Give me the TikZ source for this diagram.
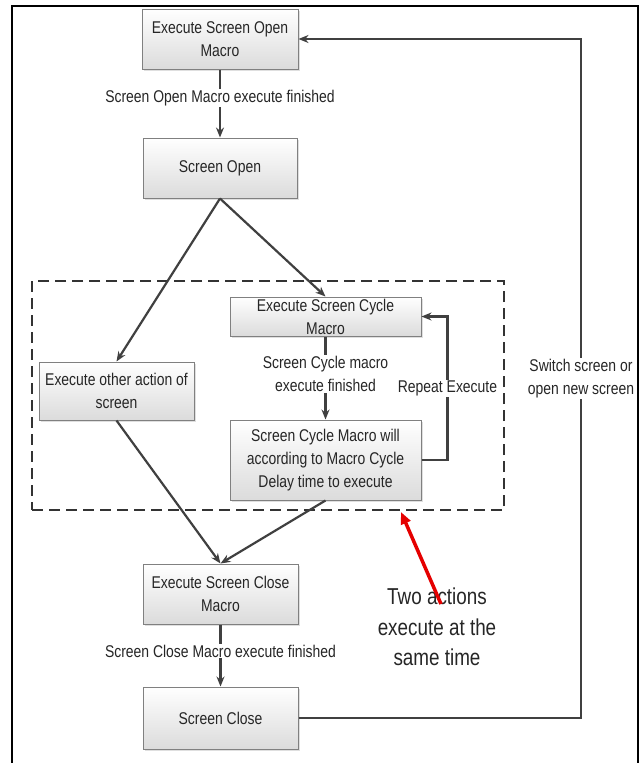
\documentclass[tikz,border=0pt]{standalone}
\usepackage{fontspec}
\setmainfont{Liberation Sans}[FakeStretch=0.82]
\usetikzlibrary{arrows.meta,shadows}
\begin{document}
\begin{tikzpicture}[x=1pt,y=-1pt,
  box/.style={draw=black!50, line width=1pt, top color=white, bottom color=black!14,
    drop shadow={shadow xshift=1.5pt, shadow yshift=-1.5pt, opacity=0.25},
    align=center, inner sep=0pt, text=black!85, font=\fontsize{17}{23}\selectfont},
  conn/.style={draw=black!75, line width=2.2pt, -{Stealth[length=10pt,width=8pt]}},
  lab/.style={fill=white, inner sep=1pt, align=center, text=black!85, font=\fontsize{17}{23}\selectfont},
  grp/.style={draw=black!80, line width=2pt, dash pattern=on 11pt off 6pt},
  frame/.style={draw=black, line width=1.4pt}]
\useasboundingbox (0,0) rectangle (641,763);
\fill[white] (0,0) rectangle (641,763);
\draw[frame] (12,763) -- (12,6) -- (638,6) -- (638,763);

\node[grp, minimum width=472pt, minimum height=229pt] (group) at (268,395.5) {};

\node[box, minimum width=156pt, minimum height=60pt] (open) at (220,39) {Execute Screen Open\\Macro};
\node[box, minimum width=154pt, minimum height=60pt] (scr) at (220,168) {Screen Open};
\node[box, minimum width=155pt, minimum height=58pt] (other) at (116.5,391) {Execute other action of\\screen};
\node[box, minimum width=191pt, minimum height=39pt] (cyc) at (325.5,316.5) {Execute Screen Cycle\\Macro};
\node[box, minimum width=191pt, minimum height=80pt] (delay) at (325.5,460) {Screen Cycle Macro will\\according to Macro Cycle\\Delay time to execute};
\node[box, minimum width=155pt, minimum height=60pt] (close) at (220.5,594) {Execute Screen Close\\Macro};
\node[box, minimum width=155pt, minimum height=62pt] (sclose) at (220.5,718) {Screen Close};

\draw[conn] (open) -- (scr) node[lab, pos=0.42] {Screen Open Macro execute finished};
\draw[conn] (scr.south) -- (other.north);
\draw[conn] (scr.south) -- (cyc.north);
\draw[conn] (cyc) -- (delay) node[lab, pos=0.45] {Screen Cycle macro\\execute finished};
\draw[conn] (delay.east) -- ++(26,0) |- (cyc.east) node[lab, pos=0.25] {Repeat Execute};
\draw[conn] (other.south) -- (close.north);
\draw[conn] (delay.south) -- (close.north);
\draw[conn] (close) -- (sclose) node[lab, pos=0.43] {Screen Close Macro execute finished};
\draw[conn] (sclose.east) -- (581,718) |- (open.east) node[lab, pos=0.25] {Switch screen or\\open new screen};

\node[align=center, text=black!85, font=\fontsize{23}{30.5}\selectfont] (note) at (437,627) {Two actions\\execute at the\\same time};
\coordinate (tip) at (401,512);
\coordinate (tail) at (441,604);
\draw[red!90!black, line width=3.5pt, -{Triangle[length=12pt,width=10pt]}] (tail) -- (tip);
\end{tikzpicture}
\end{document}
